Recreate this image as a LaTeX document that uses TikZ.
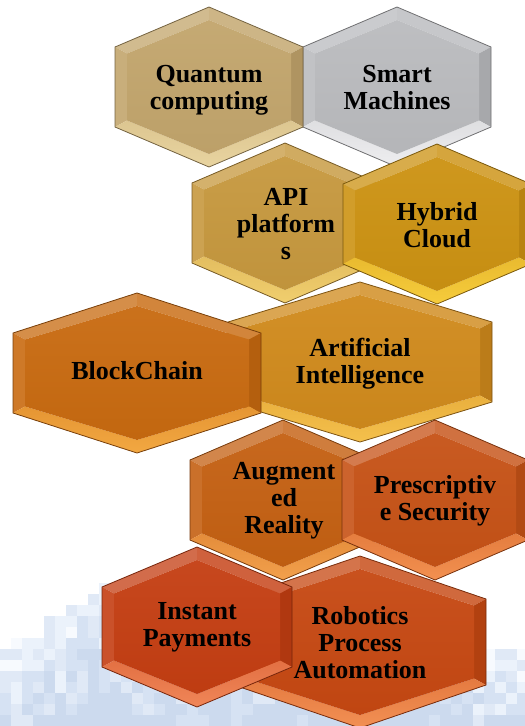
\documentclass[tikz,border=0pt]{standalone}
\usepackage{fontspec}
\setmainfont{Liberation Serif}

% cell colours: body and lower-bevel highlight
\definecolor{qBase}{RGB}{194,165,108}  \definecolor{qHi}{RGB}{232,212,160}
\definecolor{sBase}{RGB}{186,187,190}  \definecolor{sHi}{RGB}{238,238,240}
\definecolor{aBase}{RGB}{198,152,62}   \definecolor{aHi}{RGB}{240,206,110}
\definecolor{hBase}{RGB}{204,146,18}   \definecolor{hHi}{RGB}{246,204,60}
\definecolor{bBase}{RGB}{200,106,16}   \definecolor{bHi}{RGB}{242,168,66}
\definecolor{iBase}{RGB}{208,138,28}   \definecolor{iHi}{RGB}{244,192,76}
\definecolor{rBase}{RGB}{196,96,18}    \definecolor{rHi}{RGB}{242,160,76}
\definecolor{pBase}{RGB}{198,82,22}    \definecolor{pHi}{RGB}{242,144,80}
\definecolor{nBase}{RGB}{196,62,18}    \definecolor{nHi}{RGB}{240,134,88}
\definecolor{oBase}{RGB}{198,72,18}    \definecolor{oHi}{RGB}{242,144,84}

% background tile tints
\definecolor{tc0}{RGB}{247,250,254}
\definecolor{tc1}{RGB}{235,242,251}
\definecolor{tc2}{RGB}{224,233,246}
\definecolor{tc3}{RGB}{214,226,243}
\definecolor{tc4}{RGB}{204,218,238}

% bevelled hexagon: #1 cx, #2 cy, #3 half width, #4 half height,
% #5 body colour, #6 highlight colour, #7 name
\newcommand\hexcell[7]{%
  \coordinate (#7-T)  at (#1,{#2-#4});
  \coordinate (#7-UR) at ({#1+#3},{#2-#4/2});
  \coordinate (#7-LR) at ({#1+#3},{#2+#4/2});
  \coordinate (#7-B)  at (#1,{#2+#4});
  \coordinate (#7-LL) at ({#1-#3},{#2+#4/2});
  \coordinate (#7-UL) at ({#1-#3},{#2-#4/2});
  \coordinate (#7-t)  at (#1,{#2-#4+13});
  \coordinate (#7-ur) at ({#1+#3-12},{#2-(#4-13)/2});
  \coordinate (#7-lr) at ({#1+#3-12},{#2+(#4-13)/2});
  \coordinate (#7-b)  at (#1,{#2+#4-13});
  \coordinate (#7-ll) at ({#1-#3+12},{#2+(#4-13)/2});
  \coordinate (#7-ul) at ({#1-#3+12},{#2-(#4-13)/2});
  % bevel facets
  \fill[#5!76!white] (#7-T) -- (#7-UL) -- (#7-ul) -- (#7-t) -- cycle;
  \fill[#5!82!white] (#7-T) -- (#7-UR) -- (#7-ur) -- (#7-t) -- cycle;
  \fill[#5!90!black] (#7-UR) -- (#7-LR) -- (#7-lr) -- (#7-ur) -- cycle;
  \fill[#5!90!white] (#7-UL) -- (#7-LL) -- (#7-ll) -- (#7-ul) -- cycle;
  \path[top color=#6!70!#5, bottom color=#6] (#7-LR) -- (#7-B) -- (#7-b) -- (#7-lr) -- cycle;
  \path[top color=#6!70!#5, bottom color=#6] (#7-LL) -- (#7-B) -- (#7-b) -- (#7-ll) -- cycle;
  % face
  \path[top color=#5!95!white, bottom color=#5!97!black] (#7-t) -- (#7-ur) -- (#7-lr) -- (#7-b) -- (#7-ll) -- (#7-ul) -- cycle;
  % rim
  \draw[#5!60!black, line width=0.8pt, line join=miter]
    (#7-T) -- (#7-UR) -- (#7-LR) -- (#7-B) -- (#7-LL) -- (#7-UL) -- cycle;
}

\begin{document}
\begin{tikzpicture}[x=1pt,y=-1pt,
  lbl/.style={font=\bfseries\fontsize{26}{27}\selectfont, align=center,
              inner sep=0pt, text=black}]
\useasboundingbox (0,0) rectangle (525,726);
\clip (0,0) rectangle (525,726);

% pixelated backdrop along the lower edge
\pgfmathsetseed{11}
\foreach \i in {0,...,47}{
  \foreach \j in {0,...,16}{
    \pgfmathsetmacro\tx{\i*11}
    \pgfmathsetmacro\ty{726-(\j+1)*11}
    \pgfmathsetmacro\bd{\tx<110 ? 650-0.64*\tx : (\tx<470 ? 600 : 648)}
    \pgfmathtruncatemacro\ok{(\ty+5.5 > \bd + 14*rnd - 7) ? 1 : 0}
    \ifnum\ok=1
      \pgfmathtruncatemacro\k{min(4, max(0, floor(rnd*3.2 + (\ty-\bd)/35)))}
      \fill[tc\k] (\tx,\ty) rectangle ++(11.4,11.4);
    \fi
  }
}

% top row
\hexcell{397}{87}{94}{80}{sBase}{sHi}{smart}
\node[lbl] (smartlbl) at (397,87.6) {Smart\\Machines};
\hexcell{209}{87}{94}{80}{qBase}{qHi}{quant}
\node[lbl] (quantlbl) at (209,90.4) {Quantum\\computing};

% second row
\hexcell{285}{223}{93}{80}{aBase}{aHi}{api}
\node[lbl] (apilbl) at (286,223.7) {API\\platform\\s};
\hexcell{437}{224}{94}{80}{hBase}{hHi}{hybrid}
\node[lbl] (hybridlbl) at (437,224.7) {Hybrid\\Cloud};

% third row
\hexcell{360}{362}{132}{80}{iBase}{iHi}{ai}
\node[lbl] (ailbl) at (360,364) {Artificial\\Intelligence};
\hexcell{137}{373}{124}{80}{bBase}{bHi}{block}
\node[lbl] (blocklbl) at (137,371) {BlockChain};

% fourth row
\hexcell{283}{500}{93}{80}{rBase}{rHi}{ar}
\node[lbl] (arlbl) at (284,501) {Augment\\ed\\Reality};
\hexcell{435}{500}{93}{80}{pBase}{pHi}{presc}
\node[lbl] (presclbl) at (435,501) {Prescriptiv\\e Security};

% bottom row
\hexcell{360}{642}{126}{86}{oBase}{oHi}{rpa}
\node[lbl] (rpalbl) at (360,643) {Robotics\\Process\\Automation};
\hexcell{197}{627}{95}{80}{nBase}{nHi}{pay}
\node[lbl] (paylbl) at (197,627.4) {Instant\\Payments};
\end{tikzpicture}
\end{document}
